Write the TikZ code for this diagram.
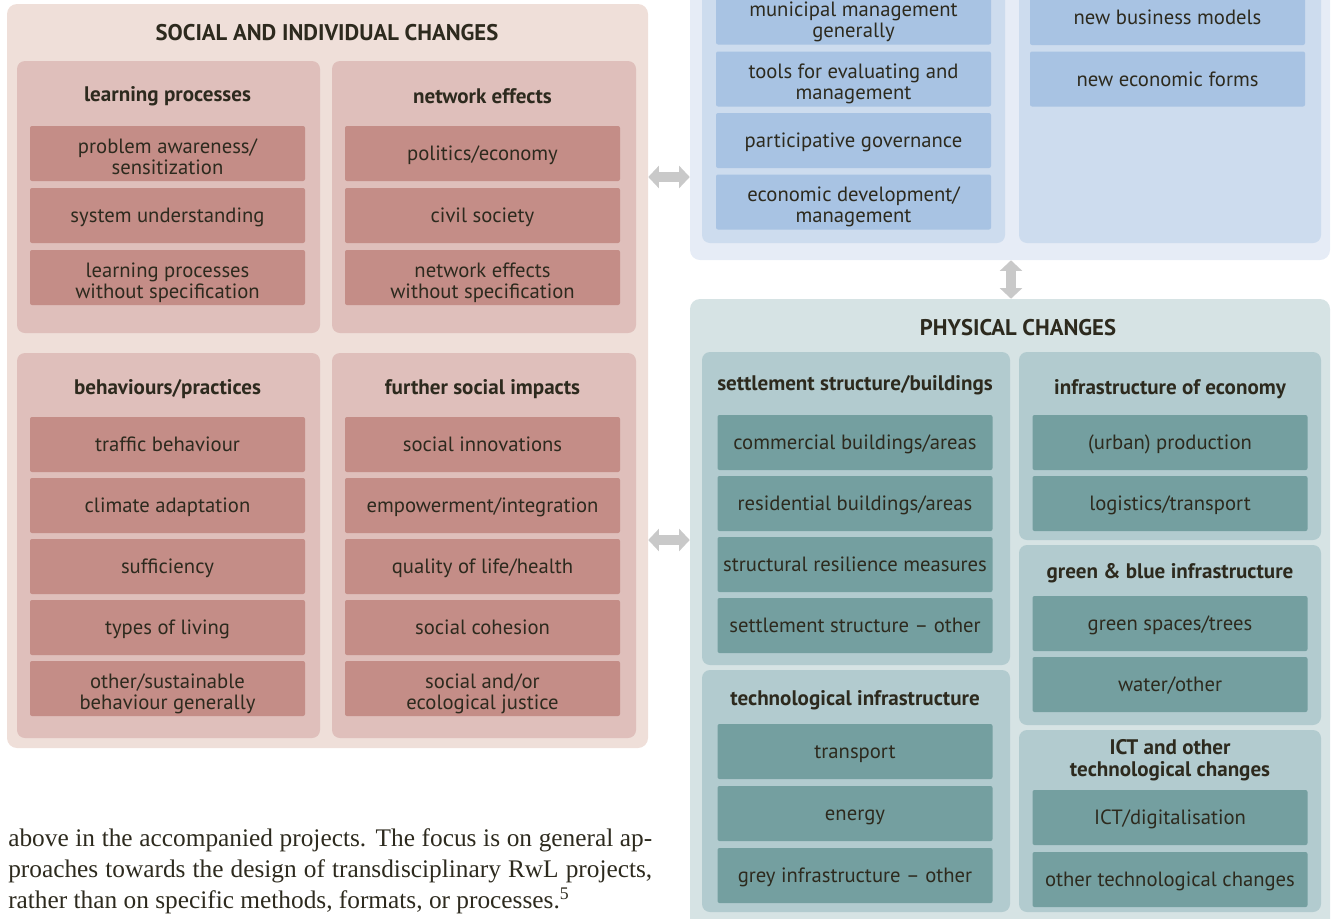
\documentclass[tikz,border=0pt]{standalone}
\usepackage{fontspec}
\setmainfont{Liberation Serif}
\newfontfamily\boxfont{PT Sans}
\usepackage{tikz}
\usetikzlibrary{fit}
\usetikzlibrary{arrows.meta}

\definecolor{ink}{HTML}{2D2A1E}
\definecolor{pinkouter}{HTML}{EFDFD9}
\definecolor{pinkgroup}{HTML}{DFBFBB}
\definecolor{pinkitem}{HTML}{C48D87}
\definecolor{blueouter}{HTML}{E6ECF6}
\definecolor{bluegroup}{HTML}{CDDCEE}
\definecolor{blueitem}{HTML}{A8C3E3}
\definecolor{greenouter}{HTML}{D6E3E4}
\definecolor{greengroup}{HTML}{B2CBCF}
\definecolor{greenitem}{HTML}{749FA0}
\definecolor{arrowgrey}{HTML}{C9C9C9}

% two-line box text, pushed down a little
\newcommand{\itemlines}[2]{\rule{0pt}{19.5pt}#1\\#2}

\begin{document}
\begin{tikzpicture}[x=0.75pt, y=-0.75pt,
  panel/.style={inner sep=0pt, rounded corners=7.5pt},
  group/.style={inner sep=0pt, rounded corners=6pt},
  item/.style={inner sep=0pt, rounded corners=1.5pt, minimum width=206.25pt, minimum height=41.25pt,
    align=center, text=ink, font=\boxfont\fontsize{15.5}{15.75}\selectfont,
    execute at begin node={\rule{0pt}{15pt}}, execute at end node={\rule[-4pt]{0pt}{4pt}}},
  head/.style={align=center, text=ink, font=\boxfont\bfseries\fontsize{15.8}{16.5}\selectfont},
  title/.style={text=ink, font=\boxfont\bfseries\fontsize{17}{18}\selectfont},
  fatarrow/.style={arrowgrey, line width=7.5pt, {Triangle[width=16.5pt,length=8pt]}-{Triangle[width=16.5pt,length=8pt]}}]
\useasboundingbox (0,0) rectangle (1333,918);
\clip (0,0) rectangle (1333,918);

% social and individual changes
\node (social) [panel, fill=pinkouter, fit={(7,4) (648,748)}] {};
\node (socialtitle) [title] at (327,33) {SOCIAL AND INDIVIDUAL CHANGES};
\node (learn) [group, fill=pinkgroup, fit={(17,61) (320,333)}] {};
\node (network) [group, fill=pinkgroup, fit={(332,61) (636,333)}] {};
\node (behave) [group, fill=pinkgroup, fit={(17,353) (320,738)}] {};
\node (further) [group, fill=pinkgroup, fit={(332,353) (636,738)}] {};
\node (learnhead) [head] at (167.5,96.5) {learning processes};
\node (networkhead) [head] at (482.5,96.5) {network effects};
\node (behavehead) [head] at (167.5,389.5) {behaviours/practices};
\node (furtherhead) [head] at (482.5,389.5) {further social impacts};
\node (awareness) [item, fill=pinkitem] at (167.5,153.5) {\itemlines{problem awareness/}{sensitization}};
\node (system) [item, fill=pinkitem] at (167.5,215.5) {system understanding};
\node (learnother) [item, fill=pinkitem] at (167.5,277.5) {\itemlines{learning processes}{without specification}};
\node (politics) [item, fill=pinkitem] at (482.5,153.5) {politics/economy};
\node (civil) [item, fill=pinkitem] at (482.5,215.5) {civil society};
\node (networkother) [item, fill=pinkitem] at (482.5,277.5) {\itemlines{network effects}{without specification}};
\node (traffic) [item, fill=pinkitem] at (167.5,444.5) {traffic behaviour};
\node (climate) [item, fill=pinkitem] at (167.5,505.5) {climate adaptation};
\node (sufficiency) [item, fill=pinkitem] at (167.5,566.5) {sufficiency};
\node (living) [item, fill=pinkitem] at (167.5,627.5) {types of living};
\node (behaveother) [item, fill=pinkitem] at (167.5,688.5) {\itemlines{other/sustainable}{behaviour generally}};
\node (innovation) [item, fill=pinkitem] at (482.5,444.5) {social innovations};
\node (empower) [item, fill=pinkitem] at (482.5,505.5) {empowerment/integration};
\node (quality) [item, fill=pinkitem] at (482.5,566.5) {quality of life/health};
\node (cohesion) [item, fill=pinkitem] at (482.5,627.5) {social cohesion};
\node (justice) [item, fill=pinkitem] at (482.5,688.5) {\itemlines{social and/or}{ecological justice}};

% governance and economy (top is cut)
\node (govern) [panel, fill=blueouter, fit={(690,-30) (1330,260)}] {};
\node (managegroup) [group, fill=bluegroup, fit={(702,-30) (1005,243)}] {};
\node (economygroup) [group, fill=bluegroup, fit={(1019,-30) (1321,243)}] {};
\node (municipal) [item, fill=blueitem] at (853.5,17) {\itemlines{municipal management}{generally}};
\node (tools) [item, fill=blueitem] at (853.5,79) {\itemlines{tools for evaluating and}{management}};
\node (participative) [item, fill=blueitem] at (853.5,140.5) {participative governance};
\node (development) [item, fill=blueitem] at (853.5,202) {\itemlines{economic development/}{management}};
\node (business) [item, fill=blueitem] at (1167.5,17.5) {new business models};
\node (forms) [item, fill=blueitem] at (1167.5,79) {new economic forms};

% physical changes
\node (physical) [panel, fill=greenouter, fit={(690,299) (1330,940)}] {};
\node (physicaltitle) [title] at (1018,328) {PHYSICAL CHANGES};
\node (settle) [group, fill=greengroup, fit={(702,352) (1010,665)}] {};
\node (techinfra) [group, fill=greengroup, fit={(702,670) (1010,912)}] {};
\node (econinfra) [group, fill=greengroup, fit={(1019,352) (1321,540)}] {};
\node (greenblue) [group, fill=greengroup, fit={(1019,545) (1321,725)}] {};
\node (ict) [group, fill=greengroup, fit={(1019,730) (1321,912)}] {};
\node (settlehead) [head] at (855,385.5) {settlement structure/buildings};
\node (techhead) [head] at (855,700.5) {technological infrastructure};
\node (econhead) [head] at (1170,389.5) {infrastructure of economy};
\node (greenbluehead) [head] at (1170,573.5) {green \& blue infrastructure};
\node (icthead) [head] at (1170,760) {ICT and other\\technological changes};
\node (commercial) [item, fill=greenitem] at (855,442.5) {commercial buildings/areas};
\node (residential) [item, fill=greenitem] at (855,503.5) {residential buildings/areas};
\node (resilience) [item, fill=greenitem] at (855,564.5) {structural resilience measures};
\node (settleother) [item, fill=greenitem] at (855,625.5) {settlement structure \textendash{} other};
\node (transport) [item, fill=greenitem] at (855,751.5) {transport};
\node (energy) [item, fill=greenitem] at (855,813.5) {energy};
\node (grey) [item, fill=greenitem] at (855,875.5) {grey infrastructure \textendash{} other};
\node (production) [item, fill=greenitem] at (1170,442.5) {(urban) production};
\node (logistics) [item, fill=greenitem] at (1170,503.5) {logistics/transport};
\node (trees) [item, fill=greenitem] at (1170,623.5) {green spaces/trees};
\node (water) [item, fill=greenitem] at (1170,684.5) {water/other};
\node (digital) [item, fill=greenitem] at (1170,817.5) {ICT/digitalisation};
\node (techother) [item, fill=greenitem] at (1170,879.5) {other technological changes};

% links between the panels
\draw [fatarrow] (social.east |- 0,177) -- (govern.west |- 0,177);
\draw [fatarrow] (social.east |- 0,540) -- (physical.west |- 0,540);
\draw [fatarrow] (govern.south -| 1011,0) -- (physical.north -| 1011,0);

% running text below
\node (bodytext) [anchor=base west, inner sep=0pt, text width=483pt, align=justify, text=ink,
  font=\fontsize{19}{23.25}\selectfont] at (8,846)
  {above in the accompanied projects. The focus is on general ap-\linebreak
   proaches towards the design of transdisciplinary RwL projects,\linebreak
   rather than on specific methods, formats, or processes.\textsuperscript{5}};
\end{tikzpicture}
\end{document}
